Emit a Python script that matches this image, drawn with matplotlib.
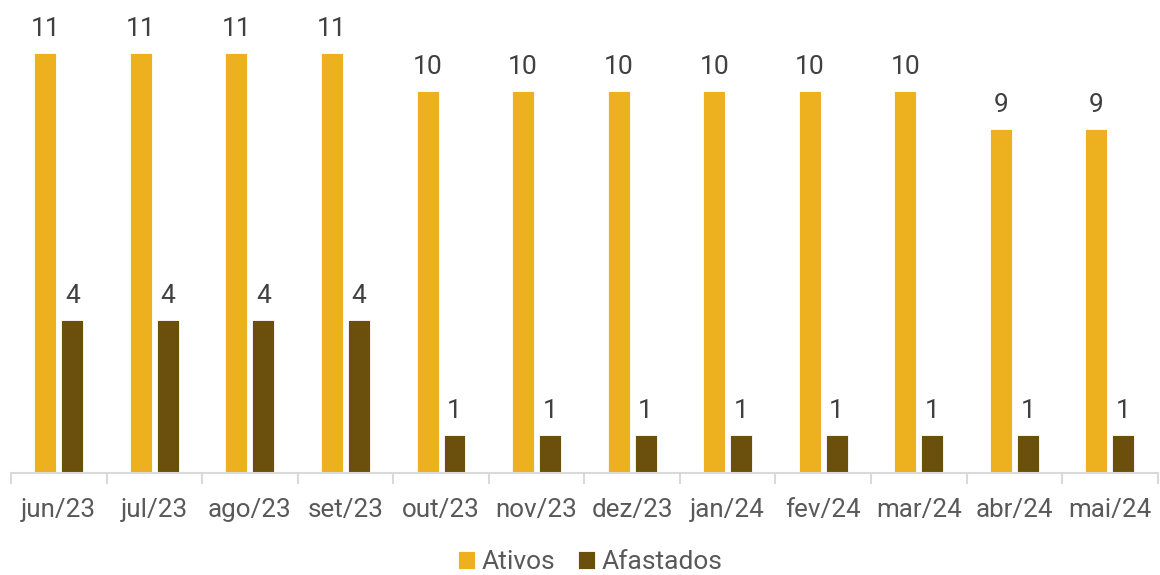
import numpy as np
import matplotlib
matplotlib.use('Agg')
import matplotlib.pyplot as plt
from matplotlib.ticker import FixedLocator

plt.rcParams['font.family'] = ['Roboto', 'DejaVu Sans']

# Data
meses = ['jun/23', 'jul/23', 'ago/23', 'set/23', 'out/23', 'nov/23',
         'dez/23', 'jan/24', 'fev/24', 'mar/24', 'abr/24', 'mai/24']
ativos = [11, 11, 11, 11, 10, 10, 10, 10, 10, 10, 9, 9]
afastados = [4, 4, 4, 4, 1, 1, 1, 1, 1, 1, 1, 1]

GOLD = '#EDB120'
BROWN = '#6B4F0C'
AXIS = '#D9D9D9'

fig = plt.figure(figsize=(11.6, 5.75), dpi=100)
ax = fig.add_axes([0.0095, 0.1774, 0.9885, 0.7966])

x = np.arange(len(meses))
w = 0.23
off = 0.141
b1 = ax.bar(x - off, ativos, w, color=GOLD, label='Ativos', edgecolor='white', linewidth=0.6)
b2 = ax.bar(x + off, afastados, w, color=BROWN, label='Afastados', edgecolor='white', linewidth=0.6)

for rects in (b1, b2):
    for r in rects:
        h = r.get_height()
        ax.text(r.get_x() + r.get_width() / 2., h + 0.32, '%d' % h,
                ha='center', va='bottom', fontsize=19, color='#404040', clip_on=False)

ax.set_xlim(-0.5, len(meses) - 0.5)
ax.set_ylim(0, 12)
ax.set_yticks([])
for s in ('top', 'right', 'left'):
    ax.spines[s].set_visible(False)
ax.spines['bottom'].set_color(AXIS)
ax.spines['bottom'].set_linewidth(1.5)

ax.set_xticks(x)
ax.set_xticklabels(meses, fontsize=18.7, color='#595959')
ax.tick_params(axis='x', which='major', length=0, pad=18)
ax.xaxis.set_minor_locator(FixedLocator(np.arange(-0.5, len(meses), 1.0)))
ax.tick_params(axis='x', which='minor', length=8, width=1.5, color=AXIS)

leg = fig.legend(handles=[b1, b2], labels=['Ativos', 'Afastados'], loc='center',
                 bbox_to_anchor=(0.509, 0.022), ncol=2, frameon=False, fontsize=19,
                 handlelength=0.65, handleheight=0.65, handletextpad=0.25, columnspacing=0.85,
                 borderaxespad=0)
for t in leg.get_texts():
    t.set_color('#595959')

fig.savefig('out.png', dpi=100, facecolor='white')
